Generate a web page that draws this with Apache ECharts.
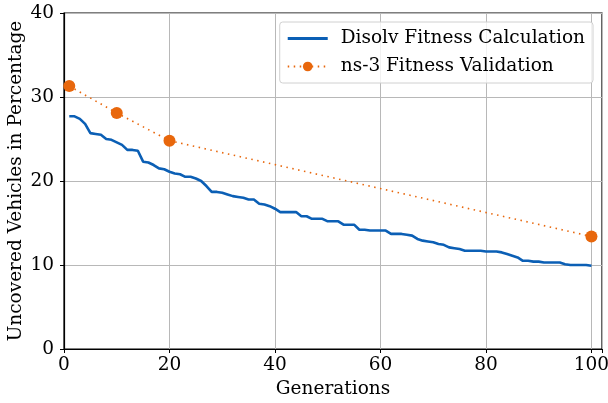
<!DOCTYPE html>
<html>
<head>
<meta charset="utf-8">
<script src="https://cdn.jsdelivr.net/npm/echarts@6/dist/echarts.min.js"></script>
<style>
  html, body { margin: 0; padding: 0; background: #fff; }
  #chart { width: 608px; height: 403px; }
</style>
</head>
<body>
<div id="chart"></div>
<script>
// Disolv fitness per generation (1..100)
const generations = Array.from({ length: 100 }, (_, i) => i + 1)
const disolvFitness = [
  27.7, 27.7, 27.4, 26.8, 25.7, 25.6, 25.5, 25.0, 24.9, 24.6,
  24.3, 23.7, 23.7, 23.6, 22.3, 22.2, 21.9, 21.5, 21.4, 21.1,
  20.9, 20.8, 20.5, 20.5, 20.3, 20.0, 19.4, 18.7, 18.7, 18.6,
  18.4, 18.2, 18.1, 18.0, 17.8, 17.8, 17.3, 17.2, 17.0, 16.7,
  16.3, 16.3, 16.3, 16.3, 15.8, 15.8, 15.5, 15.5, 15.5, 15.2,
  15.2, 15.2, 14.8, 14.8, 14.8, 14.2, 14.2, 14.1, 14.1, 14.1,
  14.1, 13.7, 13.7, 13.7, 13.6, 13.5, 13.1, 12.9, 12.8, 12.7,
  12.5, 12.4, 12.1, 12.0, 11.9, 11.7, 11.7, 11.7, 11.7, 11.6,
  11.6, 11.6, 11.5, 11.3, 11.1, 10.9, 10.5, 10.5, 10.4, 10.4,
  10.3, 10.3, 10.3, 10.3, 10.1, 10.0, 10.0, 10.0, 10.0, 9.9
]

// ns-3 validation runs
const ns3Generations = [1, 10, 20, 100]
const ns3Fitness = [31.3, 28.1, 24.8, 13.4]

const font = 'DejaVu Serif'
const fontSize = 18.5
const blue = '#0b5fb5'
const orange = '#e8670c'

const chart = echarts.init(document.getElementById('chart'))

const option = {
  animation: false,
  textStyle: { fontFamily: font },
  grid: {
    left: 64,
    top: 13,
    right: 6,
    bottom: 54,
    containLabel: false,
    outerBoundsMode: 'none',
    show: true,
    borderColor: '#000',
    borderWidth: 1.2,
  },
  legend: {
    right: 15,
    top: 22,
    orient: 'vertical',
    itemWidth: 40,
    itemHeight: 12,
    itemGap: 9,
    padding: [7, 8, 7, 7],
    backgroundColor: 'rgba(255,255,255,0.8)',
    borderColor: '#d0d0d0',
    borderWidth: 1,
    borderRadius: 3,
    textStyle: { fontFamily: font, fontSize: fontSize, color: '#000', padding: [0, 0, 0, 8] },
    data: [
      { name: 'Disolv Fitness Calculation', icon: 'path://M0,0 L40,0 L40,3 L0,3 Z' },
      'ns-3 Fitness Validation',
    ],
  },
  xAxis: {
    type: 'value',
    min: 0,
    max: 102,
    interval: 20,
    name: 'Generations',
    nameLocation: 'middle',
    nameGap: 31,
    nameMoveOverlap: false,
    nameTextStyle: { fontFamily: font, fontSize: fontSize, color: '#000' },
    axisLine: { show: true, lineStyle: { color: '#000', width: 1.2 } },
    axisTick: { show: true, inside: false, length: 4, lineStyle: { color: '#000' } },
    axisLabel: {
      color: '#000', fontFamily: font, fontSize: fontSize, margin: 7,
      formatter: v => (v % 20 === 0 ? String(v) : ''),
    },
    splitLine: { show: true, lineStyle: { color: '#b8b8b8', width: 1 } },
  },
  yAxis: {
    type: 'value',
    min: 0,
    max: 40,
    interval: 10,
    name: 'Uncovered Vehicles in Percentage',
    nameLocation: 'middle',
    nameGap: 38,
    nameMoveOverlap: false,
    nameTextStyle: { fontFamily: font, fontSize: fontSize, color: '#000' },
    axisLine: { show: true, lineStyle: { color: '#000', width: 1.2 } },
    axisTick: { show: true, inside: false, length: 4, lineStyle: { color: '#000' } },
    axisLabel: { color: '#000', fontFamily: font, fontSize: fontSize, margin: 10 },
    splitLine: { show: true, lineStyle: { color: '#b8b8b8', width: 1 } },
  },
  series: [
    {
      name: 'Disolv Fitness Calculation',
      type: 'line',
      data: generations.map((g, i) => [g, disolvFitness[i]]),
      symbol: 'none',
      lineStyle: { color: blue, width: 2.6 },
      itemStyle: { color: blue },
      z: 3,
    },
    {
      name: 'ns-3 Fitness Validation',
      type: 'line',
      data: ns3Generations.map((g, i) => [g, ns3Fitness[i]]),
      symbol: 'circle',
      symbolSize: 12,
      lineStyle: { color: orange, width: 1.6, type: [1.5, 4.5] },
      itemStyle: { color: orange },
      z: 4,
    },
  ],
}

chart.setOption(option)
</script>
</body>
</html>
